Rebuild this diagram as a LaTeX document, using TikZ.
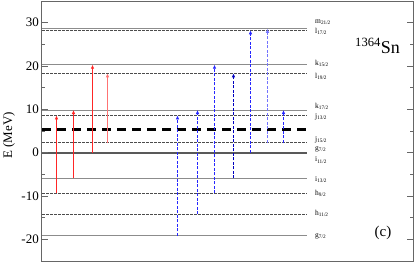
\documentclass[tikz,border=0pt]{standalone}
\usepackage{fontspec}
\setmainfont{Liberation Serif}
\usetikzlibrary{arrows.meta}

\begin{document}
\begin{tikzpicture}[x=1pt,y=4.333pt,>={Latex[length=4pt,width=3.6pt]}]
  \tikzset{
    frame/.style={black!60, line width=0.9pt},
    level/.style={black!45, line width=1pt},
    dlevel/.style={black!70, line width=0.6pt, dash pattern=on 2.5pt off 1.5pt},
    fermi/.style={black, line width=2.4pt, dash pattern=on 9pt off 6pt},
    parr/.style={->, red!85, line width=0.9pt},
    narr/.style={->, blue!85, line width=0.9pt, dash pattern=on 3pt off 1.5pt},
    lab/.style={anchor=west, inner sep=0pt, font=\fontsize{7.5}{7.5}\selectfont},
    ticklab/.style={anchor=east, inner sep=0pt, font=\fontsize{13}{13}\selectfont},
  }

  \useasboundingbox (0,-25.46) rectangle (415,35.24);

  % single particle levels
  \foreach \e in {28.6,20.3,9.85,-5.9,-19.2}
    \draw[level] (42,\e) -- (307,\e);
  \foreach \e in {28.25,18.3,8.6,2.3,-9.4,-14.2}
    \draw[dlevel] (42,\e) -- (307,\e);
  \draw[level, black!65, line width=1.8pt] (42,0) -- (307,0);
  \draw[fermi] (42,5.35) -- (307,5.35);

  \node[lab] (m21) at (315,30.1) {m\textsubscript{21/2}};
  \node[lab] (l17) at (315,27.9) {l\textsubscript{17/2}};
  \node[lab] (k15) at (315,20.6) {k\textsubscript{15/2}};
  \node[lab] (l19) at (315,17.6) {l\textsubscript{19/2}};
  \node[lab] (k17) at (315,10.6) {k\textsubscript{17/2}};
  \node[lab] (j13) at (315,8.2) {j\textsubscript{13/2}};
  \node[lab] (j15) at (315,2.9) {j\textsubscript{15/2}};
  \node[lab] (g7a) at (315,0.7) {g\textsubscript{7/2}};
  \node[lab] (i11) at (315,-1.7) {i\textsubscript{11/2}};
  \node[lab] (i13) at (315,-6.1) {i\textsubscript{13/2}};
  \node[lab] (h9) at (315,-9.3) {h\textsubscript{9/2}};
  \node[lab] (h11) at (315,-14.1) {h\textsubscript{11/2}};
  \node[lab] (g7b) at (315,-19.4) {g\textsubscript{7/2}};

  % transitions
  \draw[parr] (56.5,-9.4) -- (56.5,8.6);
  \draw[parr] (73.5,-5.9) -- (73.5,9.85);
  \draw[parr] (92.5,0) -- (92.5,20.3);
  \draw[parr, red!55] (107.5,2.3) -- (107.5,18.3);

  \draw[narr] (177.5,-19.2) -- (177.5,8.6);
  \draw[narr] (197.5,-14.2) -- (197.5,9.85);
  \draw[narr] (214.5,-9.4) -- (214.5,20.3);
  \draw[narr, blue!75!black] (233.5,-5.9) -- (233.5,18.3);
  \draw[narr] (250.5,0) -- (250.5,28.25);
  \draw[narr, blue!55] (267.5,2.3) -- (267.5,28.6);
  \draw[narr] (283.5,2.3) -- (283.5,9.85);

  % axes
  \draw[frame] (41.7,-25) rectangle (413.5,35);
  \foreach \e in {-20,-10,0,10,20,30} {
    \draw[frame] (41.7,\e) -- ++(6,0);
    \draw[frame] (413.5,\e) -- ++(-7,0);
    \node[ticklab] at (39,\e) {\e};
  }
  \foreach \e in {-15,-5,5,15,25} {
    \draw[frame] (41.7,\e) -- ++(3,0);
    \draw[frame] (413.5,\e) -- ++(-4,0);
  }
  \node[rotate=90, font=\fontsize{13}{13}\selectfont] (ylab) at (9,4) {E (MeV)};

  \node[anchor=base west, inner sep=0pt, font=\fontsize{18}{18}\selectfont] (nucl)
    at (355,23) {\textsuperscript{1364}Sn};
  \node[font=\fontsize{15}{15}\selectfont] (panel) at (383,-18.5) {(c)};
\end{tikzpicture}
\end{document}
